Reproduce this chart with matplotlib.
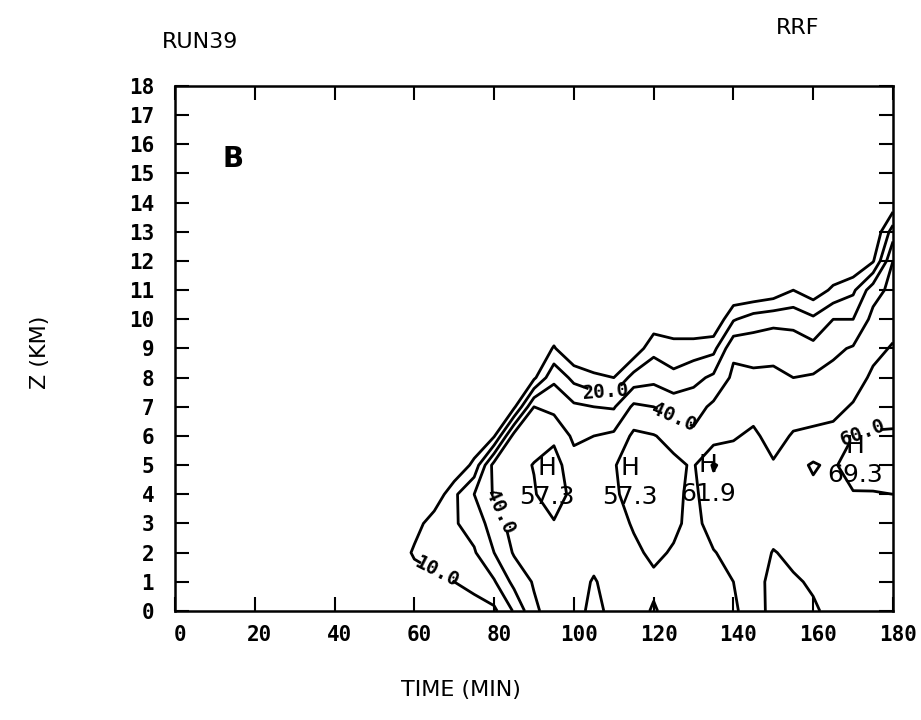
import numpy as np
import matplotlib.pyplot as plt
from matplotlib.transforms import ScaledTranslation

# grid of model reflectivity (dBZ): one list per time column,
# values at heights 0..15 km
time_min = [45, 50, 55, 60, 65, 70, 75, 80, 85, 90, 95, 100, 105, 110,
            115, 120, 125, 130, 135, 140, 145, 150, 155, 160, 165, 170, 175, 180]
height_km = [0, 1, 2, 3, 4, 5, 6, 7, 8, 9, 10, 11, 12, 13, 14, 15]

rrf_by_time = [
    [0, 0, 0, 0, 0, 0, 0, 0, 0, 0, 0, 0, 0, 0, 0, 0],            # 45
    [0, 0, 0, 0, 0, 0, 0, 0, 0, 0, 0, 0, 0, 0, 0, 0],            # 50
    [0, 0, 0, 0, 0, 0, 0, 0, 0, 0, 0, 0, 0, 0, 0, 0],            # 55
    [0, 3, 12, 5, 0, 0, 0, 0, 0, 0, 0, 0, 0, 0, 0, 0],           # 60
    [0, 7, 15, 16, 2, 0, 0, 0, 0, 0, 0, 0, 0, 0, 0, 0],          # 65
    [3, 10, 17, 19, 18, 0, 0, 0, 0, 0, 0, 0, 0, 0, 0, 0],        # 70
    [6, 13, 19, 24, 30, 13, 0, 0, 0, 0, 0, 0, 0, 0, 0, 0],       # 75
    [8, 19, 30, 35, 41, 44, 9, 0, 0, 0, 0, 0, 0, 0, 0, 0],       # 80
    [21, 33, 41, 44, 45, 46, 44, 8, 0, 0, 0, 0, 0, 0, 0, 0],     # 85
    [38, 41, 43, 45, 49, 50.5, 45, 40, 8, 0, 0, 0, 0, 0, 0, 0],  # 90
    [45, 44, 45, 49, 57, 54, 48, 37, 28, 11, 0, 0, 0, 0, 0, 0],  # 95
    [46, 45, 44, 45, 46, 44, 38, 32, 17, 0, 0, 0, 0, 0, 0, 0],   # 100
    [53, 51, 46, 44, 45, 46, 40, 30, 12, 0, 0, 0, 0, 0, 0, 0],   # 105
    [47, 45, 44, 46, 48, 49, 42, 29, 10, 0, 0, 0, 0, 0, 0, 0],   # 110
    [46, 46, 48, 51, 55, 57, 52, 42, 24, 3, 0, 0, 0, 0, 0, 0],   # 115
    [51, 48, 52, 53, 54, 53, 50.5, 40, 27, 17, 3, 0, 0, 0, 0, 0],  # 120
    [46, 46, 49, 52, 52, 52, 47, 36, 23, 13, 4, 0, 0, 0, 0, 0],  # 125
    [46, 45, 46, 47, 48, 49, 42, 36, 27, 15, 0, 0, 0, 0, 0, 0],  # 130
    [47, 47, 49.5, 54, 56, 61, 45, 42, 32, 17, 0, 0, 0, 0, 0, 0],  # 135
    [49, 50, 53, 55, 55, 55, 49, 44, 42, 38, 19, 0, 0, 0, 0, 0],   # 140
    [53, 54, 55, 56, 56, 55, 52, 46, 42, 36, 25, 0, 0, 0, 0, 0],   # 145
    [48, 47, 49.5, 54, 54, 51, 46, 44, 42, 37, 27, 3, 0, 0, 0, 0],  # 150
    [47, 49, 52, 55, 57, 57, 51, 45, 40, 35, 27, 10, 0, 0, 0, 0],  # 155
    [49, 51, 54, 56, 58, 61, 52, 46, 41, 33, 22, 4, 0, 0, 0, 0],   # 160
    [52, 53, 55, 57, 58, 58, 53, 47, 43, 38, 30, 12, 0, 0, 0, 0],  # 165
    [53, 54, 56, 57, 59, 67, 60, 51, 45, 41, 30, 18, 0, 0, 0, 0],  # 170
    [52, 53, 55, 56, 59, 68, 61, 56, 52, 47, 43, 36, 9, 0, 0, 0],  # 175
    [51, 52, 54, 56, 60, 66, 61, 57, 54, 51, 46, 43, 40, 25, 3, 0],  # 180
]

levels = [10, 20, 30, 40, 50, 60]

# local maxima marked with H
max_time = [93.2, 114.0, 133.6, 170.4]
max_height = [4.9, 4.9, 5.0, 5.65]
max_value = [57.3, 57.3, 61.9, 69.3]

# spots where contour values are written (nearest line gets the label)
label_time = [65.5, 81.8, 108.0, 125.0, 172.5]
label_height = [1.3, 3.4, 7.5, 6.64, 6.1]

rrf = np.array(rrf_by_time).T

fig = plt.figure(figsize=(9.21, 7.2), dpi=100)
ax = fig.add_axes([0.19, 0.1514, 0.7796, 0.7292])

cs = ax.contour(time_min, height_km, rrf, levels=levels, colors='black',
                linewidths=2.0)
txts = ax.clabel(cs, manual=list(zip(label_time, label_height)), fmt='%.1f',
                 fontsize=14, inline=True, inline_spacing=2)
for txt in txts:
    txt.set_fontfamily('DejaVu Sans Mono')
    txt.set_fontweight('bold')

for t, z, v in zip(max_time, max_height, max_value):
    ax.text(t, z, 'H', ha='center', va='center', fontsize=18)
    ax.annotate(f'{v:.1f}', (t, z), xytext=(0, -21), textcoords='offset points',
                ha='center', va='center', fontsize=18)

ax.text(14.5, 15.5, 'B', fontsize=20, fontweight='bold', ha='center', va='center')

ax.set_xlim(0, 180)
ax.set_ylim(0, 18)
ax.set_xticks(range(0, 181, 20))
ax.set_yticks(range(0, 19))
ax.tick_params(direction='in', length=10, width=1.5, top=True, right=True,
               labelsize=15)
ax.tick_params(axis='y', pad=15)
ax.tick_params(axis='x', pad=10)
shift = ScaledTranslation(5 / 100, 0, fig.dpi_scale_trans)
for lab in ax.get_xticklabels():
    lab.set_transform(lab.get_transform() + shift)
for lab in ax.get_xticklabels() + ax.get_yticklabels():
    lab.set_fontfamily('DejaVu Sans Mono')
    lab.set_fontweight('bold')
for sp in ax.spines.values():
    sp.set_linewidth(1.8)

fig.text(0.5, 0.042, 'TIME (MIN)', ha='center', va='center', fontsize=16)
fig.text(0.043, 0.511, 'Z (KM)', ha='center', va='center', fontsize=16,
         rotation=90)
fig.text(0.217, 0.942, 'RUN39', ha='center', va='center', fontsize=16)
fig.text(0.866, 0.961, 'RRF', ha='center', va='center', fontsize=16)

fig.savefig('out.png', dpi=100)
